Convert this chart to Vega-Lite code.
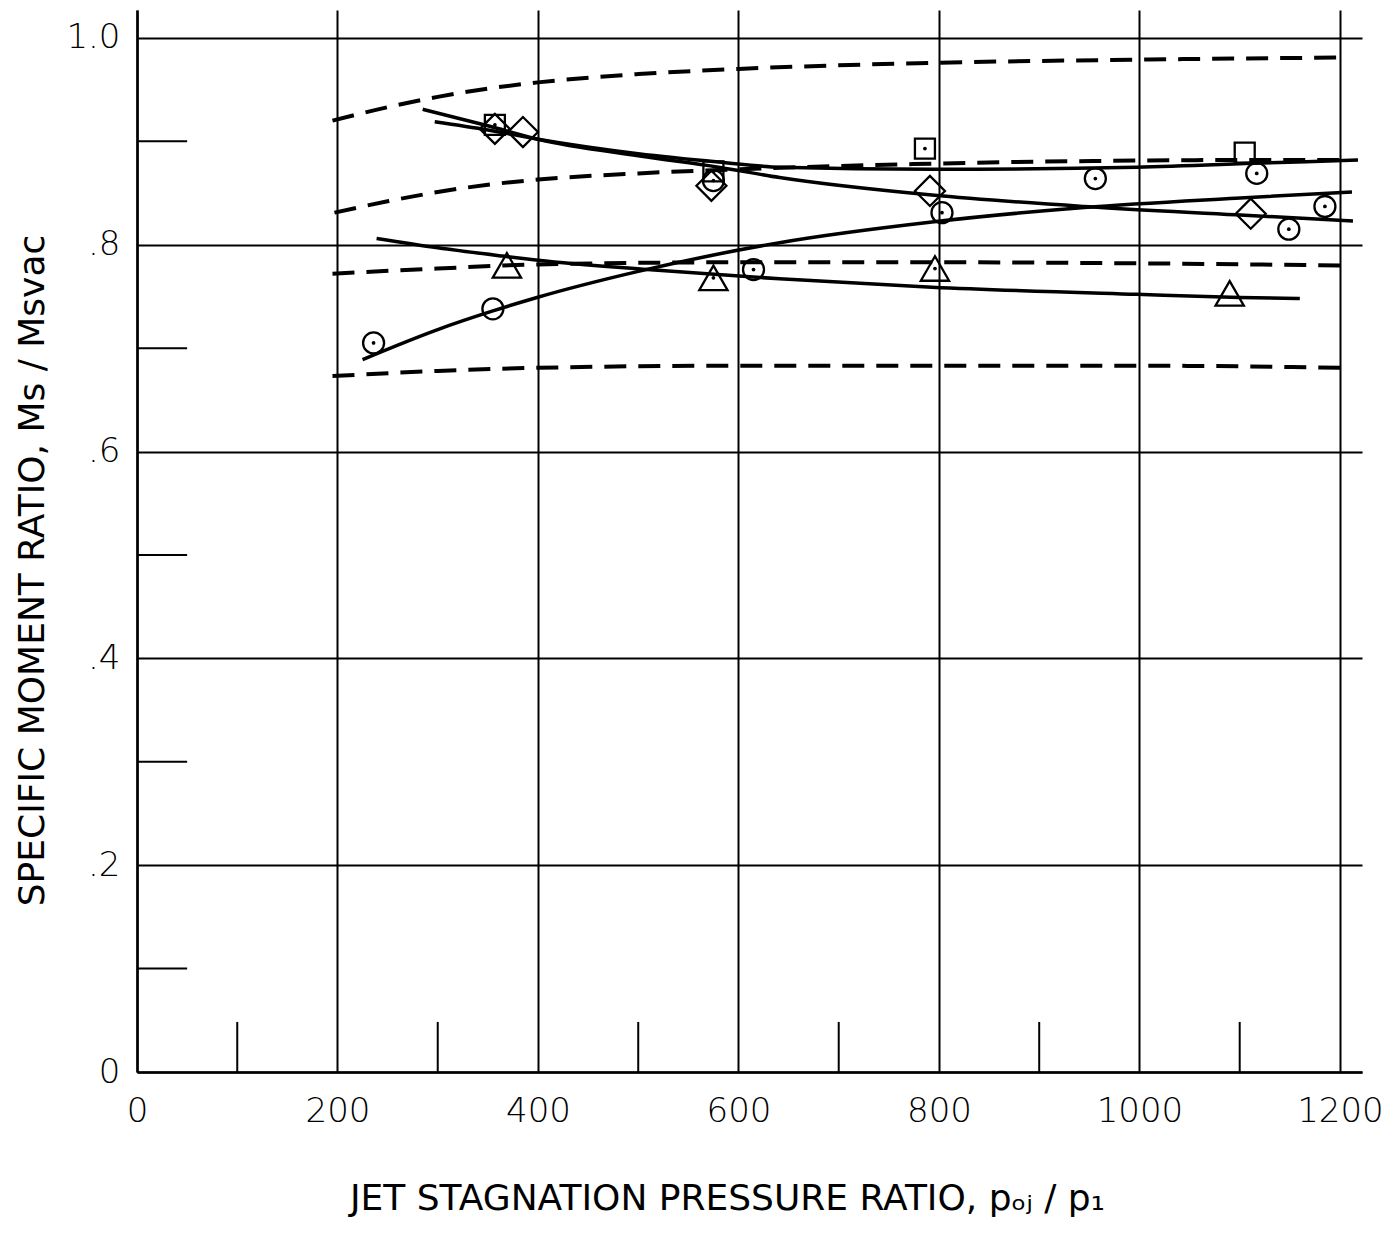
{
  "$schema": "https://vega.github.io/schema/vega-lite/v6.json",
  "autosize": "none",
  "padding": {"left": 137, "top": 10, "right": 34, "bottom": 181},
  "width": 1225,
  "height": 1062,
  "background": "white",
  "config": {
    "view": {"stroke": null},
    "axis": {
      "domainColor": "black",
      "domainWidth": 2.5,
      "gridColor": "black",
      "gridOpacity": 1,
      "gridWidth": 2,
      "ticks": false,
      "tickSize": 0,
      "labelColor": "black",
      "labelFont": "DejaVu Sans",
      "labelFontWeight": 200,
      "labelFontSize": 34,
      "labelOverlap": false,
      "labelFlush": false,
      "titleColor": "black",
      "titleFontWeight": "normal"
    }
  },
  "datasets": {
    "ticks": [
      {"x1": 100, "x2": 100, "y1": 0, "y2": 0.0484},
      {"x1": 300, "x2": 300, "y1": 0, "y2": 0.0484},
      {"x1": 500, "x2": 500, "y1": 0, "y2": 0.0484},
      {"x1": 700, "x2": 700, "y1": 0, "y2": 0.0484},
      {"x1": 900, "x2": 900, "y1": 0, "y2": 0.0484},
      {"x1": 1100, "x2": 1100, "y1": 0, "y2": 0.0484},
      {"x1": 0, "x2": 50, "y1": 0.1, "y2": 0.1},
      {"x1": 0, "x2": 50, "y1": 0.3, "y2": 0.3},
      {"x1": 0, "x2": 50, "y1": 0.5, "y2": 0.5},
      {"x1": 0, "x2": 50, "y1": 0.7, "y2": 0.7},
      {"x1": 0, "x2": 50, "y1": 0.9, "y2": 0.9}
    ],
    "dashed": [
      {"series": "D1", "x": 195, "y": 0.92},
      {"series": "D1", "x": 250, "y": 0.933},
      {"series": "D1", "x": 300, "y": 0.943},
      {"series": "D1", "x": 350, "y": 0.951},
      {"series": "D1", "x": 400, "y": 0.957},
      {"series": "D1", "x": 500, "y": 0.965},
      {"series": "D1", "x": 600, "y": 0.97},
      {"series": "D1", "x": 800, "y": 0.976},
      {"series": "D1", "x": 1000, "y": 0.979},
      {"series": "D1", "x": 1200, "y": 0.981},
      {"series": "D2", "x": 197, "y": 0.831},
      {"series": "D2", "x": 250, "y": 0.842},
      {"series": "D2", "x": 300, "y": 0.851},
      {"series": "D2", "x": 350, "y": 0.858},
      {"series": "D2", "x": 400, "y": 0.863},
      {"series": "D2", "x": 500, "y": 0.869},
      {"series": "D2", "x": 600, "y": 0.873},
      {"series": "D2", "x": 774, "y": 0.878},
      {"series": "D2", "x": 954, "y": 0.881},
      {"series": "D2", "x": 1130, "y": 0.882},
      {"series": "D2", "x": 1200, "y": 0.882},
      {"series": "D3", "x": 195, "y": 0.772},
      {"series": "D3", "x": 300, "y": 0.777},
      {"series": "D3", "x": 400, "y": 0.781},
      {"series": "D3", "x": 600, "y": 0.783},
      {"series": "D3", "x": 800, "y": 0.783},
      {"series": "D3", "x": 1000, "y": 0.782},
      {"series": "D3", "x": 1200, "y": 0.78},
      {"series": "D4", "x": 195, "y": 0.673},
      {"series": "D4", "x": 300, "y": 0.678},
      {"series": "D4", "x": 400, "y": 0.681},
      {"series": "D4", "x": 600, "y": 0.683},
      {"series": "D4", "x": 800, "y": 0.683},
      {"series": "D4", "x": 1000, "y": 0.683},
      {"series": "D4", "x": 1200, "y": 0.681}
    ],
    "solid": [
      {"series": "S1", "x": 285, "y": 0.931},
      {"series": "S1", "x": 350, "y": 0.915},
      {"series": "S1", "x": 400, "y": 0.902},
      {"series": "S1", "x": 500, "y": 0.886},
      {"series": "S1", "x": 580, "y": 0.875},
      {"series": "S1", "x": 641, "y": 0.865},
      {"series": "S1", "x": 793, "y": 0.848},
      {"series": "S1", "x": 945, "y": 0.837},
      {"series": "S1", "x": 1096, "y": 0.829},
      {"series": "S1", "x": 1213, "y": 0.823},
      {"series": "S2", "x": 297, "y": 0.919},
      {"series": "S2", "x": 350, "y": 0.911},
      {"series": "S2", "x": 400, "y": 0.902},
      {"series": "S2", "x": 500, "y": 0.888},
      {"series": "S2", "x": 580, "y": 0.88},
      {"series": "S2", "x": 641, "y": 0.875},
      {"series": "S2", "x": 793, "y": 0.873},
      {"series": "S2", "x": 997, "y": 0.875},
      {"series": "S2", "x": 1123, "y": 0.879},
      {"series": "S2", "x": 1218, "y": 0.882},
      {"series": "S3", "x": 225, "y": 0.689},
      {"series": "S3", "x": 300, "y": 0.718},
      {"series": "S3", "x": 355, "y": 0.736},
      {"series": "S3", "x": 399, "y": 0.749},
      {"series": "S3", "x": 499, "y": 0.774},
      {"series": "S3", "x": 641, "y": 0.802},
      {"series": "S3", "x": 793, "y": 0.822},
      {"series": "S3", "x": 945, "y": 0.836},
      {"series": "S3", "x": 1096, "y": 0.845},
      {"series": "S3", "x": 1212, "y": 0.851},
      {"series": "S4", "x": 239, "y": 0.806},
      {"series": "S4", "x": 300, "y": 0.797},
      {"series": "S4", "x": 365, "y": 0.789},
      {"series": "S4", "x": 400, "y": 0.785},
      {"series": "S4", "x": 509, "y": 0.776},
      {"series": "S4", "x": 641, "y": 0.767},
      {"series": "S4", "x": 793, "y": 0.759},
      {"series": "S4", "x": 997, "y": 0.752},
      {"series": "S4", "x": 1100, "y": 0.749},
      {"series": "S4", "x": 1160, "y": 0.748}
    ],
    "points": [
      {"shape": "square", "x": 357, "y": 0.916, "dot": true},
      {"shape": "square", "x": 575, "y": 0.871, "dot": true},
      {"shape": "square", "x": 786, "y": 0.893, "dot": true},
      {"shape": "square", "x": 1105, "y": 0.889, "dot": false},
      {"shape": "diamond", "x": 357, "y": 0.912, "dot": false},
      {"shape": "diamond", "x": 385, "y": 0.909, "dot": false},
      {"shape": "diamond", "x": 573, "y": 0.857, "dot": false},
      {"shape": "diamond", "x": 791, "y": 0.852, "dot": false},
      {"shape": "diamond", "x": 1111, "y": 0.83, "dot": false},
      {"shape": "circle", "x": 236, "y": 0.705, "dot": true},
      {"shape": "circle", "x": 355, "y": 0.738, "dot": false},
      {"shape": "circle", "x": 575, "y": 0.862, "dot": true},
      {"shape": "circle", "x": 615, "y": 0.776, "dot": true},
      {"shape": "circle", "x": 803, "y": 0.831, "dot": true},
      {"shape": "circle", "x": 956, "y": 0.864, "dot": true},
      {"shape": "circle", "x": 1117, "y": 0.869, "dot": true},
      {"shape": "circle", "x": 1149, "y": 0.815, "dot": true},
      {"shape": "circle", "x": 1185, "y": 0.837, "dot": true},
      {"shape": "triangle", "x": 369, "y": 0.78, "dot": false},
      {"shape": "triangle", "x": 575, "y": 0.768, "dot": true},
      {"shape": "triangle", "x": 796, "y": 0.777, "dot": true},
      {"shape": "triangle", "x": 1090, "y": 0.753, "dot": false}
    ]
  },
  "encoding": {
    "x": {"type": "quantitative", "scale": {"domain": [0, 1222], "nice": false, "zero": false}},
    "y": {"type": "quantitative", "scale": {"domain": [0, 1.027], "nice": false, "zero": false}}
  },
  "layer": [
    {
      "data": {"name": "ticks"},
      "mark": {"type": "rule", "color": "black", "strokeWidth": 2},
      "encoding": {
        "x": {"field": "x1", "type": "quantitative", "axis": {
          "values": [0, 200, 400, 600, 800, 1000, 1200],
          "format": "d",
          "grid": true,
          "labelPadding": 22,
          "title": "JET STAGNATION PRESSURE RATIO, pₒⱼ / p₁",
          "titleFont": "DejaVu Sans",
          "titleFontSize": 36,
          "titleAlign": "center",
          "titleBaseline": "alphabetic",
          "titleX": 590,
          "titleY": 137
        }},
        "x2": {"field": "x2"},
        "y": {"field": "y1", "type": "quantitative", "axis": {
          "values": [0, 0.2, 0.4, 0.6, 0.8, 1.0],
          "grid": true,
          "labelPadding": 17,
          "labelExpr": "datum.value == 0 ? '0' : (datum.value == 1 ? '1.0' : replace(format(datum.value, '.1f'), '0.', '.'))",
          "title": "SPECIFIC MOMENT RATIO, Ms / Msvac",
          "titleFont": "DejaVu Sans",
          "titleFontSize": 36,
          "titleAlign": "center",
          "titleBaseline": "alphabetic",
          "titleAngle": -90,
          "titleX": -94,
          "titleY": 560
        }},
        "y2": {"field": "y2"}
      }
    },
    {
      "data": {"name": "dashed"},
      "mark": {"type": "line", "color": "black", "strokeWidth": 4, "strokeDash": [22, 12], "interpolate": "monotone"},
      "encoding": {
        "x": {"field": "x", "type": "quantitative"},
        "y": {"field": "y", "type": "quantitative"},
        "detail": {"field": "series", "type": "nominal"}
      }
    },
    {
      "data": {"name": "solid"},
      "mark": {"type": "line", "color": "black", "strokeWidth": 3.5, "interpolate": "monotone"},
      "encoding": {
        "x": {"field": "x", "type": "quantitative"},
        "y": {"field": "y", "type": "quantitative"},
        "detail": {"field": "series", "type": "nominal"}
      }
    },
    {
      "data": {"name": "points"},
      "transform": [{"filter": "datum.shape == 'square'"}],
      "mark": {"type": "point", "shape": "square", "filled": false, "color": "black", "strokeWidth": 2.3, "opacity": 1, "size": 400},
      "encoding": {
        "x": {"field": "x", "type": "quantitative"},
        "y": {"field": "y", "type": "quantitative"}
      }
    },
    {
      "data": {"name": "points"},
      "transform": [{"filter": "datum.shape == 'diamond'"}],
      "mark": {"type": "point", "shape": "diamond", "filled": false, "color": "black", "strokeWidth": 2.3, "opacity": 1, "size": 900},
      "encoding": {
        "x": {"field": "x", "type": "quantitative"},
        "y": {"field": "y", "type": "quantitative"}
      }
    },
    {
      "data": {"name": "points"},
      "transform": [{"filter": "datum.shape == 'circle'"}],
      "mark": {"type": "point", "shape": "circle", "filled": false, "color": "black", "strokeWidth": 2.3, "opacity": 1, "size": 441},
      "encoding": {
        "x": {"field": "x", "type": "quantitative"},
        "y": {"field": "y", "type": "quantitative"}
      }
    },
    {
      "data": {"name": "points"},
      "transform": [{"filter": "datum.shape == 'triangle'"}],
      "mark": {"type": "point", "shape": "triangle-up", "filled": false, "color": "black", "strokeWidth": 2.3, "opacity": 1, "size": 800},
      "encoding": {
        "x": {"field": "x", "type": "quantitative"},
        "y": {"field": "y", "type": "quantitative"}
      }
    },
    {
      "data": {"name": "points"},
      "transform": [{"filter": "datum.dot"}],
      "mark": {"type": "point", "filled": true, "shape": "circle", "color": "black", "size": 14, "opacity": 1},
      "encoding": {
        "x": {"field": "x", "type": "quantitative"},
        "y": {"field": "y", "type": "quantitative"}
      }
    }
  ]
}
